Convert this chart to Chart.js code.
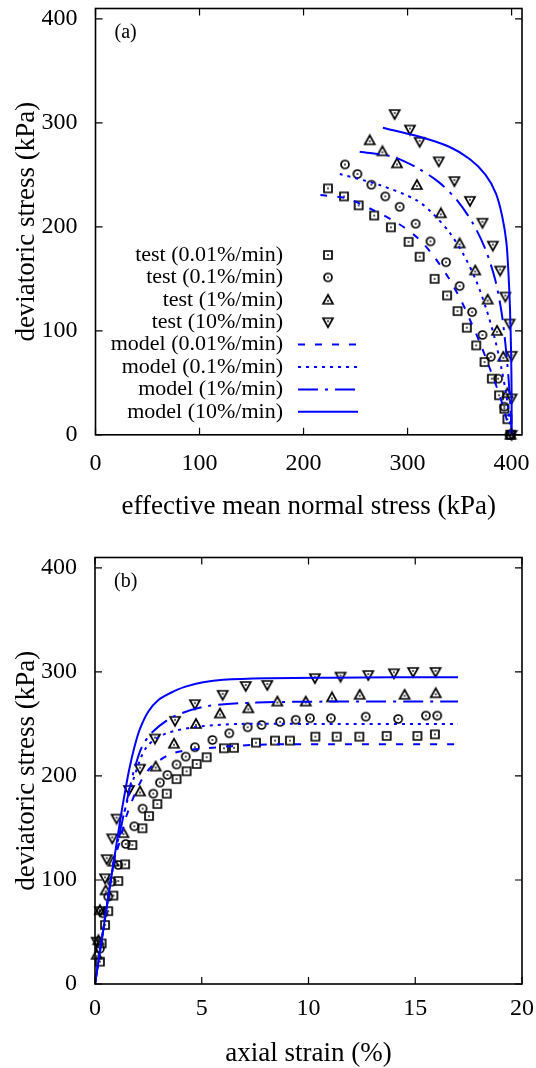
<!DOCTYPE html>
<html>
<head>
<meta charset="utf-8">
<script src="https://cdn.jsdelivr.net/npm/chart.js@4.4.1/dist/chart.umd.min.js"></script>
<style>
  html, body { margin: 0; padding: 0; background: #fff; }
  body { width: 536px; height: 1068px; overflow: hidden; position: relative; }
  canvas { position: absolute; left: 0; }
  #chartA { top: -30px; }
  #chartB { top: 520px; }
</style>
</head>
<body>
<canvas id="chartA" width="580" height="564"></canvas>
<canvas id="chartB" width="580" height="552"></canvas>
<script>
// tick values
const pTicks = [0, 100, 200, 300, 400];
const qTicks = [0, 100, 200, 300, 400];
const strainTicks = [0, 5, 10, 15, 20];

const rateLabels = ['0.01%/min', '0.1%/min', '1%/min', '10%/min'];

// (a) stress path: [p', q] in kPa
const testA001 = [[223.5,237],[238.9,229.3],[253,220.7],[267.9,210.9],[284,199.5],[301,185.6],[311.6,171.3],[326,150],[338,134],[348,119],[357,103],[366,86],[374,70],[381,54],[388,38],[393,25],[396,15],[399,0]];
const testA01 = [[239.8,260],[251.8,250.8],[265.2,240.5],[278.6,229.3],[292.4,219.3],[307.7,203],[322,186],[337,166],[350,143],[362,118],[372,96],[380,75],[387,54],[393,27],[398,0]];
const testA1 = [[263.6,283.2],[275.8,272.6],[289.8,261],[309,240.2],[332,213],[350,184],[365,158],[377,130],[386,100],[392,75],[396,40],[399,0]];
const testA10 = [[287.6,308.5],[302.3,293.6],[311.6,281.8],[330,263],[345,244],[360,225],[372,204],[382,182],[389,158],[394,133],[398,107],[400,76],[400,35],[400,0]];

const modelA001 = [[216.2,230.6],[241.2,227.4],[266.7,216.2],[290.7,203.4],[310,189],[325,172],[340,150],[352,128],[362,106],[371,85],[379,64],[386,45],[392,27],[396,12],[400,0]];
const modelA01 = [[234.8,250.8],[273.2,240.2],[308.4,225.8],[325,212],[340,195],[354,173],[366,148],[376,120],[384,92],[390,65],[395,38],[398,15],[400,0]];
const modelA1 = [[254,272.2],[285.6,267.4],[310,256.3],[330,243],[348,225],[363,203],[375,178],[384,150],[390,120],[394,88],[397,55],[399,25],[400,0]];
const modelA10 = [[276.3,295.3],[311.6,286.6],[340,277],[360,265],[375,250],[385,232],[391,210],[395,185],[397,155],[398.5,120],[399.5,80],[400,40],[400,0]];

// (b) stress-strain: [axial strain %, q kPa]
const testB001 = [[0.23,21.5],[0.31,39],[0.47,56.7],[0.62,70],[0.86,85],[1.09,99],[1.41,115],[1.75,133.6],[2.22,149.7],[2.53,161.5],[2.92,173],[3.36,183],[3.82,197],[4.29,204.5],[4.76,211.5],[5.23,218],[6.04,226.6],[6.51,227],[7.54,232],[8.43,234],[9.13,234],[10.32,237.8],[11.32,237.8],[12.38,237.8],[13.66,238.5],[15.1,238.5],[15.92,240]];
const testB01 = [[0.23,34],[0.39,68],[0.62,84],[0.78,98.4],[1.09,114.4],[1.44,134.6],[1.84,151.6],[2.23,168.6],[2.73,183],[3.04,193.6],[3.39,201],[3.82,211],[4.25,218.6],[4.68,227.6],[5.5,234.6],[6.29,241],[7.15,246.8],[7.8,249],[8.67,252],[9.4,254],[10.07,255.5],[11.05,255.5],[12.68,257],[14.2,254.8],[15.5,258],[16.03,258]];
const testB1 = [[0.08,28],[0.16,42],[0.23,71],[0.5,90],[0.86,117.6],[1.33,145],[2.11,185],[2.84,209],[3.7,231],[4.73,250],[5.85,260],[7.18,265],[8.54,271.5],[9.87,271.5],[11.1,275.5],[12.4,278],[14.5,278],[15.96,279.5]];
const testB10 = [[0.08,40.7],[0.23,70],[0.47,101.6],[0.55,120],[0.81,140],[1.01,159],[1.59,186.5],[2.11,207],[2.81,236],[3.75,253],[4.68,269],[5.98,278],[7.06,286.5],[8.07,287.5],[10.3,294],[11.5,295.5],[12.8,297],[14.0,298.7],[14.9,300],[15.95,300]];

const modelB001 = [[0,0],[0.4,54],[0.85,114],[1.2,140],[1.48,162],[2.1,193],[2.65,209],[3.67,222],[5.23,226.6],[7.57,230],[11,230.5],[17,230.5]];
const modelB01 = [[0,0],[0.4,54],[0.85,114],[1.2,150],[1.5,175],[1.8,197],[2.42,228],[3.36,241],[4.92,247.5],[6.8,250],[10,250],[17,250]];
const modelB1 = [[0,0],[0.4,54],[0.85,114],[1.1,140],[1.35,163],[1.6,186],[1.85,207],[2.2,228],[2.73,243],[3.67,257],[5.23,267],[7.57,270.5],[11,271.5],[17,271.5]];
const modelB10 = [[0,0],[0.4,54],[0.8,107],[1.2,160],[1.4,184],[1.6,206],[1.85,228],[2.1,245],[2.5,262],[2.97,273],[3.51,279.5],[4.2,285.6],[5.06,290],[6.0,292.5],[8.0,294],[11,294.5],[17,295]];

const SERIF = "'Liberation Serif', 'Times New Roman', serif";
Chart.defaults.font.family = SERIF;
Chart.defaults.color = '#000';

// gnuplot-like point symbols
function marker(shape) {
  const c = document.createElement('canvas');
  c.width = 14; c.height = 14;
  const g = c.getContext('2d');
  g.strokeStyle = '#000';
  g.fillStyle = '#000';
  g.lineWidth = 1.7;
  g.beginPath();
  let cy = 7;
  if (shape === 'square') {
    g.rect(3, 3, 8, 8);
  } else if (shape === 'circle') {
    g.arc(7, 7, 4, 0, Math.PI * 2);
  } else if (shape === 'up') {
    g.moveTo(7, 2); g.lineTo(12, 11); g.lineTo(2, 11); g.closePath();
    cy = 8;
  } else {
    g.moveTo(2, 3); g.lineTo(12, 3); g.lineTo(7, 12); g.closePath();
    cy = 6;
  }
  g.stroke();
  g.fillRect(6.2, cy - 0.8, 1.6, 1.6);
  return c;
}
const markers = [marker('square'), marker('circle'), marker('up'), marker('down')];
const dashes = [[7, 10], [3, 5], [20, 7, 3, 7], []];

function testSet(i, data) {
  return {
    label: 'test (' + rateLabels[i] + ')',
    data: data,
    showLine: false,
    pointStyle: markers[i],
    pointRadius: 5,
    order: 1,
    clip: false
  };
}
function modelSet(i, data) {
  return {
    label: 'model (' + rateLabels[i] + ')',
    data: data,
    showLine: true,
    pointRadius: 0,
    borderColor: '#0000ff',
    borderWidth: 2,
    borderDash: dashes[i],
    tension: 0.3,
    fill: false,
    order: 0
  };
}

const frame = {
  id: 'frame',
  afterDraw(chart, args, opts) {
    const { ctx, chartArea: a, scales: { x, y } } = chart;
    ctx.save();
    ctx.strokeStyle = '#000';
    ctx.lineWidth = 1.2;
    ctx.beginPath();
    x.ticks.forEach(t => {
      const px = x.getPixelForValue(t.value);
      ctx.moveTo(px, a.bottom); ctx.lineTo(px, a.bottom - 7);
      ctx.moveTo(px, a.top); ctx.lineTo(px, a.top + 7);
    });
    y.ticks.forEach(t => {
      const py = y.getPixelForValue(t.value);
      ctx.moveTo(a.left, py); ctx.lineTo(a.left + 7, py);
      ctx.moveTo(a.right, py); ctx.lineTo(a.right - 7, py);
    });
    ctx.stroke();
    ctx.lineWidth = 1.6;
    ctx.strokeRect(a.left, a.top, a.right - a.left, a.bottom - a.top);
    ctx.font = '20px ' + SERIF;
    ctx.fillStyle = '#000';
    ctx.textAlign = 'left';
    ctx.textBaseline = 'middle';
    ctx.fillText(opts.label, a.left + 19, a.top + 24);

    if (opts.legend) {
      const L = opts.legend;
      ctx.font = '22px ' + SERIF;
      ctx.textAlign = 'right';
      chart.data.datasets.forEach((ds, i) => {
        const ly = L.y + i * L.step;
        ctx.fillText(ds.label, L.textX, ly);
        if (ds.showLine) {
          ctx.save();
          ctx.strokeStyle = ds.borderColor;
          ctx.lineWidth = ds.borderWidth;
          ctx.setLineDash(ds.borderDash);
          ctx.beginPath();
          ctx.moveTo(L.x1, ly); ctx.lineTo(L.x2, ly);
          ctx.stroke();
          ctx.restore();
        } else {
          ctx.drawImage(ds.pointStyle, L.symX - 7, ly - 7);
        }
      });
    }
    ctx.restore();
  }
};

function axis(ticks, min, max, title, o) {
  return {
    type: 'linear',
    min: min,
    max: max,
    position: o.position,
    afterBuildTicks: s => { s.ticks = ticks.map(v => ({ value: v })); },
    afterFit: s => { if (o.width) s.width = o.width; if (o.height) s.height = o.height; },
    ticks: { font: { size: 24 }, color: '#000', padding: o.tickPad },
    grid: { display: false, drawTicks: false },
    border: { display: false },
    title: { display: true, text: title, font: { size: 27 }, color: '#000', padding: o.titlePad }
  };
}

function baseOptions(pad, xAxis, yAxis, frameOpts) {
  return {
    responsive: false,
    animation: false,
    events: [],
    layout: { padding: pad },
    plugins: { legend: { display: false }, tooltip: { enabled: false }, frame: frameOpts },
    scales: { x: xAxis, y: yAxis }
  };
}

new Chart(document.getElementById('chartA'), {
  type: 'scatter',
  data: {
    datasets: [
      testSet(0, testA001), testSet(1, testA01), testSet(2, testA1), testSet(3, testA10),
      modelSet(0, modelA001), modelSet(1, modelA01), modelSet(2, modelA1), modelSet(3, modelA10)
    ]
  },
  options: baseOptions(
    { top: 38.5, right: 58, left: 0, bottom: 0 },
    axis(pTicks, 0, 410, 'effective mean normal stress (kPa)', { position: 'bottom', height: 99.2, tickPad: 14.4, titlePad: { top: 0, bottom: 10.8 } }),
    axis(qTicks, 0, 410, 'deviatoric stress (kPa)', { position: 'left', width: 95.5, tickPad: 18, titlePad: { top: 10.8, bottom: 0 } }),
    { label: '(a)', legend: { y: 285, step: 22.4, textX: 283, symX: 328, x1: 298, x2: 358 } }
  ),
  plugins: [frame]
});

new Chart(document.getElementById('chartB'), {
  type: 'scatter',
  data: {
    datasets: [
      testSet(0, testB001), testSet(1, testB01), testSet(2, testB1), testSet(3, testB10),
      modelSet(0, modelB001), modelSet(1, modelB01), modelSet(2, modelB1), modelSet(3, modelB10)
    ]
  },
  options: baseOptions(
    { top: 37.5, right: 58, left: 0, bottom: 0 },
    axis(strainTicks, 0, 20, 'axial strain (%)', { position: 'bottom', height: 88, tickPad: 10, titlePad: { top: 0, bottom: 1.8 } }),
    axis(qTicks, 0, 410, 'deviatoric stress (kPa)', { position: 'left', width: 95, tickPad: 18, titlePad: { top: 10.8, bottom: 0 } }),
    { label: '(b)' }
  ),
  plugins: [frame]
});
</script>
</body>
</html>
